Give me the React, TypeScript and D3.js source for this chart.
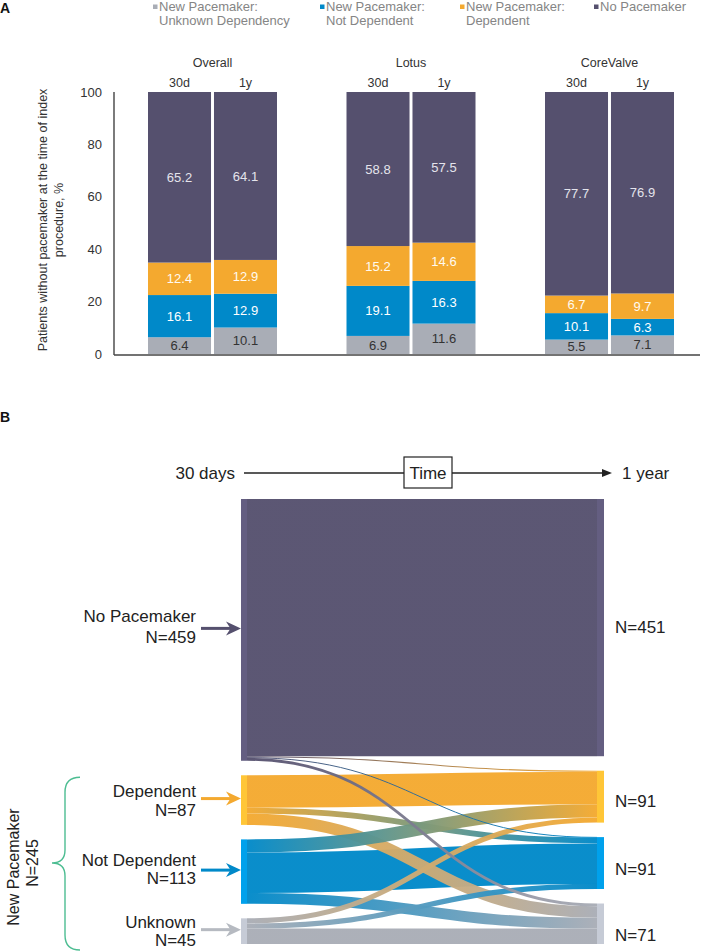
import React from "react";
import * as d3 from "d3";

// ---------- Panel A data ----------
const groups = ["Overall", "Lotus", "CoreValve"];
const periods = ["30d", "1y"];
const seriesKeys = ["unknown", "notDep", "dep", "none"];
const legendLabels = [
  ["New Pacemaker:", "Unknown Dependency"],
  ["New Pacemaker:", "Not Dependent"],
  ["New Pacemaker:", "Dependent"],
  ["No Pacemaker"],
];
// order: Overall 30d, Overall 1y, Lotus 30d, Lotus 1y, CoreValve 30d, CoreValve 1y
const unknownDependency = [6.4, 10.1, 6.9, 11.6, 5.5, 7.1];
const notDependent = [16.1, 12.9, 19.1, 16.3, 10.1, 6.3];
const dependent = [12.4, 12.9, 15.2, 14.6, 6.7, 9.7];
const noPacemaker = [65.2, 64.1, 58.8, 57.5, 77.7, 76.9];
const yTicks = [0, 20, 40, 60, 80, 100];

// ---------- Panel B data ----------
const stateNames = ["No Pacemaker", "Dependent", "Not Dependent", "Unknown"];
const leftCounts = [459, 87, 113, 45];
const rightCounts = [451, 91, 91, 71];
// flows[source at 30 days][target at 1 year]
const flows = [
  [451, 2, 1, 5],
  [0, 57, 10, 20],
  [0, 23, 71, 19],
  [0, 9, 9, 27],
];

const COLORS = ["#a9adb6", "#0089c9", "#f4a92f", "#55506e"]; // unknown, notDep, dep, none
const STATE_COLORS = ["#55506e", "#f4a92f", "#0089c9", "#a9adb6"]; // none, dep, notDep, unknown
const ARROW_COLORS = ["#55506e", "#f4a92f", "#0089c9", "#b6bac1"];
const LABEL_COLORS = ["#333333", "#ffffff", "#fffaf0", "#e4e4ec"];
const FONT = "'Liberation Sans', Arial, Helvetica, sans-serif";

export default function App() {
  // ---------- Panel A ----------
  const y = d3.scaleLinear().domain([0, 100]).range([354, 92]);
  const gx = d3.scalePoint().domain(groups).range([212.5, 609.5]);
  const px = d3.scaleBand().domain(periods).range([-64.5, 64.5]).paddingInner(0.045);
  const table = groups.flatMap((g, gi) =>
    periods.map((p, pi) => {
      const i = gi * 2 + pi;
      return {
        group: g,
        period: p,
        unknown: unknownDependency[i],
        notDep: notDependent[i],
        dep: dependent[i],
        none: noPacemaker[i],
      };
    })
  );
  const stacked = d3.stack().keys(seriesKeys)(table as any);
  const legendX = [153, 320, 460, 594];

  // ---------- Panel B (sankey layout) ----------
  const top = 499;
  const bottom = 944;
  const gap = 14.5;
  const total = d3.sum(leftCounts);
  const k = (bottom - top - gap * (leftCounts.length - 1)) / total;
  const scaleN = d3.scaleLinear().domain([0, total]).range([0, total * k]);
  const layoutNodes = (counts: number[]) => {
    let acc = top;
    return counts.map((c) => {
      const y0 = acc;
      const y1 = acc + scaleN(c);
      acc = y1 + gap;
      return { y0, y1, c: (y0 + y1) / 2 };
    });
  };
  const leftNodes = layoutNodes(leftCounts);
  const rightNodes = layoutNodes(rightCounts);
  const lx0 = 241, lx1 = 247, rx0 = 597, rx1 = 604;
  const srcOff = leftNodes.map((n) => n.y0);
  const tgtOff = rightNodes.map((n) => n.y0);
  const links: any[] = [];
  flows.forEach((row, s) =>
    row.forEach((v, t) => {
      if (v <= 0) return;
      const w = scaleN(v);
      links.push({ s, t, v, w, ys: srcOff[s] + w / 2, yt: 0 });
      srcOff[s] += w;
    })
  );
  for (let s = 0; s < flows.length; s++) {
    links.filter((l) => l.s === s).forEach((l) => {
      l.yt = tgtOff[l.t] + l.w / 2;
      tgtOff[l.t] += l.w;
    });
  }
  const linkGen = d3.linkHorizontal();
  const drawOrder = [
    ...links.filter((l) => l.s === l.t),
    ...links.filter((l) => l.s !== l.t && l.s !== 0),
    ...links.filter((l) => l.s !== l.t && l.s === 0),
  ];
  const leftDy = [-8, -3, -6, -3];
  const leftDy2 = [13, 16, 12, 15];
  const rightDy = [5.5, 10, 12, 17];

  const tlY = 473;

  return (
    <svg
      width={709}
      height={951}
      style={{ position: "absolute", left: 0, top: 0, background: "#fff" }}
      fontFamily={FONT}
    >
      <defs>
        {links.map((l) => (
          <linearGradient
            key={`g${l.s}${l.t}`}
            id={`lg-${l.s}-${l.t}`}
            gradientUnits="userSpaceOnUse"
            x1={lx1}
            x2={rx0}
            y1={0}
            y2={0}
          >
            <stop offset="0%" stopColor={STATE_COLORS[l.s]} />
            <stop offset="100%" stopColor={STATE_COLORS[l.t]} />
          </linearGradient>
        ))}
      </defs>

      {/* Panel A */}
      <text x={0} y={13} fontSize={14} fontWeight="bold" fill="#111">A</text>
      {legendLabels.map((lines, i) => (
        <g key={i}>
          <rect x={legendX[i]} y={4.5} width={4.5} height={4.5} fill={COLORS[i]} />
          {lines.map((ln, j) => (
            <text
              key={j}
              x={legendX[i] + 6}
              y={11 + j * 14}
              fontSize={13}
              fill="#858585"
            >
              {ln}
            </text>
          ))}
        </g>
      ))}

      {groups.map((g) => (
        <g key={g}>
          <text x={gx(g)} y={66.5} fontSize={12.5} textAnchor="middle" fill="#333">{g}</text>
          {periods.map((p) => (
            <text
              key={p}
              x={(gx(g) as number) + (px(p) as number) + px.bandwidth() / 2}
              y={87}
              fontSize={12.5}
              textAnchor="middle"
              fill="#333"
            >
              {p}
            </text>
          ))}
        </g>
      ))}

      {yTicks.map((t) => (
        <text key={t} x={102} y={y(t)} dy="0.35em" fontSize={13} textAnchor="end" fill="#333">
          {t}
        </text>
      ))}
      <text transform={`translate(47,220) rotate(-90)`} fontSize={12.5} textAnchor="middle" fill="#333">
        Patients without pacemaker at the time of index
      </text>
      <text transform={`translate(63,220) rotate(-90)`} fontSize={12.5} textAnchor="middle" fill="#333">
        procedure, %
      </text>

      {stacked.map((series, si) => (
        <g key={series.key}>
          {series.map((d: any, i) => {
            const row = d.data;
            const x = (gx(row.group) as number) + (px(row.period) as number);
            const y0 = y(d[0]);
            const y1 = y(Math.min(d[1], 100));
            return (
              <g key={i}>
                <rect x={x} y={y1} width={px.bandwidth()} height={y0 - y1} fill={COLORS[si]} />
                <text
                  x={x + px.bandwidth() / 2}
                  y={(y0 + y1) / 2}
                  dy="0.35em"
                  fontSize={13}
                  textAnchor="middle"
                  fill={LABEL_COLORS[si]}
                >
                  {row[series.key].toFixed(1)}
                </text>
              </g>
            );
          })}
        </g>
      ))}
      <line x1={114} x2={114} y1={92} y2={355} stroke="#444" strokeWidth={1.4} />
      <line x1={114} x2={700} y1={355} y2={355} stroke="#444" strokeWidth={1.4} />

      {/* Panel B */}
      <text x={0} y={422} fontSize={14} fontWeight="bold" fill="#111">B</text>
      <text x={235} y={tlY + 6} fontSize={17} textAnchor="end" fill="#222">30 days</text>
      <line x1={244} x2={604} y1={tlY} y2={tlY} stroke="#222" strokeWidth={1.3} />
      <path d={`M612,${tlY} L602,${tlY - 4} L602,${tlY + 4} Z`} fill="#222" />
      <rect x={404} y={457} width={48} height={31} fill="#fff" stroke="#222" strokeWidth={1.2} />
      <text x={428} y={tlY + 6} fontSize={17} textAnchor="middle" fill="#222">Time</text>
      <text x={622} y={tlY + 6} fontSize={17} fill="#222">1 year</text>

      {drawOrder.map((l) => (
        <path
          key={`l${l.s}${l.t}`}
          d={linkGen({ source: [lx1, l.ys], target: [rx0, l.yt] } as any) as string}
          fill="none"
          stroke={`url(#lg-${l.s}-${l.t})`}
          strokeWidth={Math.max(l.w, 1)}
          strokeOpacity={0.96}
        />
      ))}
      {leftNodes.map((n, i) => (
        <rect key={`ln${i}`} x={lx0} y={n.y0} width={lx1 - lx0} height={n.y1 - n.y0}
          fill={d3.color(STATE_COLORS[i])!.brighter(0.45).toString()} />
      ))}
      {rightNodes.map((n, i) => (
        <rect key={`rn${i}`} x={rx0} y={n.y0} width={rx1 - rx0} height={n.y1 - n.y0}
          fill={d3.color(STATE_COLORS[i])!.brighter(0.45).toString()} />
      ))}

      {leftNodes.map((n, i) => (
        <g key={`ll${i}`}>
          <text x={196} y={n.c + leftDy[i]} fontSize={17} textAnchor="end" fill="#222">
            {stateNames[i]}
          </text>
          <text x={196} y={n.c + leftDy2[i]} fontSize={17} textAnchor="end" fill="#222">
            {`N=${leftCounts[i]}`}
          </text>
          <line x1={201} x2={232} y1={n.c - 1.5} y2={n.c - 1.5} stroke={ARROW_COLORS[i]} strokeWidth={3} />
          <path
            d={`M241,${n.c - 1.5} L226,${n.c - 8.5} L230.5,${n.c - 1.5} L226,${n.c + 5.5} Z`}
            fill={ARROW_COLORS[i]}
          />
        </g>
      ))}
      {rightNodes.map((n, i) => (
        <text key={`rl${i}`} x={615} y={n.c + rightDy[i]} fontSize={17} fill="#222">
          {`N=${rightCounts[i]}`}
        </text>
      ))}

      {/* Brace for New Pacemaker */}
      <path
        d={`M80,${leftNodes[1].y0 + 2} Q65,${leftNodes[1].y0 + 2} 65,${leftNodes[1].y0 + 17}
            L65,850 Q65,863 52,863 Q65,863 65,876 L65,935 Q65,950 80,950`}
        fill="none"
        stroke="#4dbd92"
        strokeWidth={1.4}
      />
      <text transform="translate(19,867) rotate(-90)" fontSize={16} textAnchor="middle" fill="#222">
        New Pacemaker
      </text>
      <text transform="translate(38,863) rotate(-90)" fontSize={16} textAnchor="middle" fill="#222">
        {`N=${d3.sum(leftCounts.slice(1))}`}
      </text>
    </svg>
  );
}
